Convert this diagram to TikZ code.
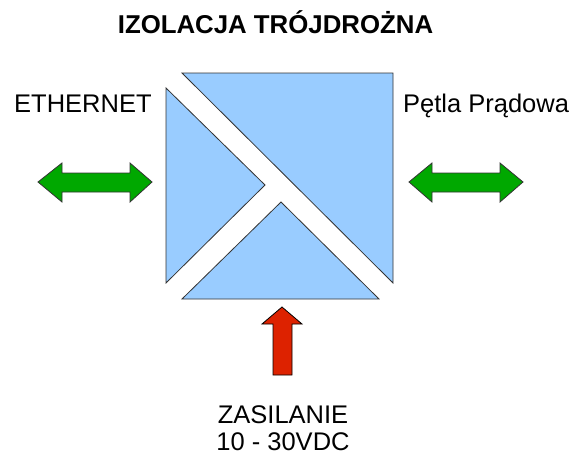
\documentclass[tikz,border=0pt]{standalone}
\usepackage{fontspec}
\setmainfont{Liberation Sans}
\definecolor{boxblue}{HTML}{99CCFF}
\definecolor{arrgreen}{HTML}{00A800}
\definecolor{arrred}{HTML}{DD2200}
\definecolor{edge}{HTML}{333333}
\begin{document}
\begin{tikzpicture}[x=1pt,y=-1pt,
  part/.style={fill=boxblue,draw=edge,line width=0.8pt,line join=miter},
  garrow/.style={fill=arrgreen,draw=edge,line width=0.8pt},
  rarrow/.style={fill=arrred,draw=black,line width=0.8pt},
  lbl/.style={font=\fontsize{25.5}{26.7}\selectfont,inner sep=0pt}]
\useasboundingbox (0,0) rectangle (575,455);
% isolation block
\draw[part] (182,73) -- (393,73) -- (393,283) -- cycle;
\draw[part] (166,88) -- (265,185) -- (166,283) -- cycle;
\draw[part] (281,202) -- (379,299) -- (182,299) -- cycle;
% green double arrows
\draw[garrow] (38,182) -- (62,163) -- (62,173) -- (130,173) -- (130,163) -- (152,182)
  -- (130,202) -- (130,192) -- (62,192) -- (62,202) -- cycle;
\draw[garrow] (409,182) -- (432,163) -- (432,173) -- (500,173) -- (500,163) -- (523,182)
  -- (500,202) -- (500,192) -- (432,192) -- (432,202) -- cycle;
% red arrow
\draw[rarrow] (282,307) -- (302,324) -- (292,324) -- (292,375) -- (273,375) -- (273,324)
  -- (262,324) -- cycle;
% texts
\node[lbl,font=\fontsize{25.8}{27}\selectfont\bfseries,anchor=base] (title) at (275.5,33.3) {IZOLACJA TRÓJDROŻNA};
\node[lbl,anchor=base west] (eth) at (14,112) {ETHERNET};
\node[lbl,anchor=base west] (loop) at (403,112) {Pętla Prądowa};
\node[lbl,anchor=base] (pwr) at (283,423) {ZASILANIE};
\node[lbl,anchor=base] (volt) at (283,450) {10 - 30VDC};
\end{tikzpicture}
\end{document}
